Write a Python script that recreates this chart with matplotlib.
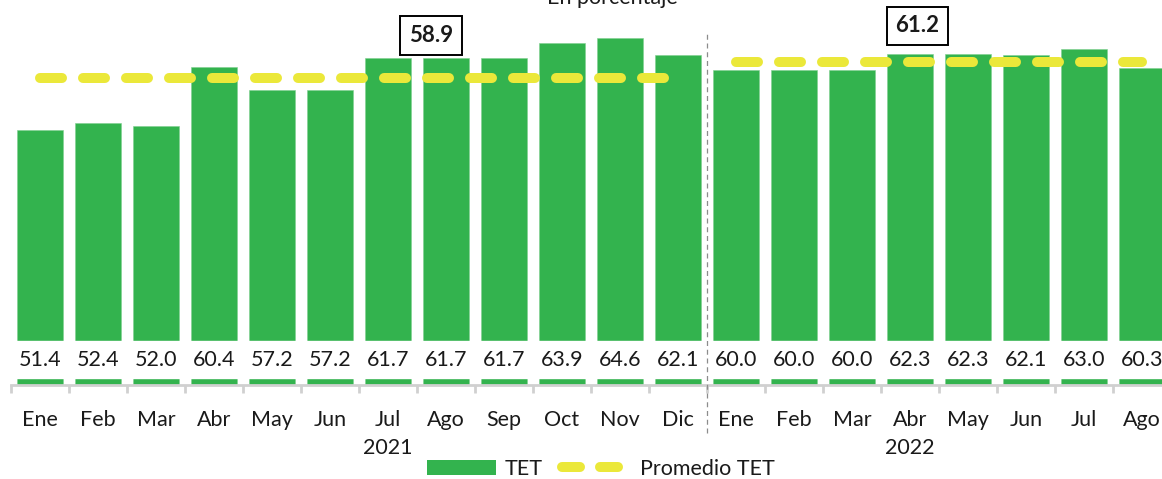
import matplotlib
matplotlib.use("Agg")
import matplotlib.pyplot as plt
from matplotlib.patches import Patch
from matplotlib.lines import Line2D

plt.rcParams['font.family'] = ['Lato', 'DejaVu Sans']

months = ["Ene", "Feb", "Mar", "Abr", "May", "Jun", "Jul", "Ago", "Sep", "Oct", "Nov", "Dic",
          "Ene", "Feb", "Mar", "Abr", "May", "Jun", "Jul", "Ago"]
tet = [51.4, 52.4, 52.0, 60.4, 57.2, 57.2, 61.7, 61.7, 61.7, 63.9, 64.6, 62.1,
       60.0, 60.0, 60.0, 62.3, 62.3, 62.1, 63.0, 60.3]
avg_2021 = 58.9
avg_2022 = 61.2
years = ["2021", "2022"]

GREEN = "#33B34E"
YELLOW = "#EBE83A"
TXT = "#1a1a1a"
FS = 15

W, H = 1162, 479
fig = plt.figure(figsize=(W / 100, H / 100), dpi=100)
left = 11 / W
ax = fig.add_axes([left, 1 - 385 / H, 1160 / W, 385 / H])

x = list(range(len(tet)))
ax.bar(x, tet, width=0.79, color=GREEN, edgecolor="#7fd08f", linewidth=0.4, zorder=2)
ax.set_xlim(-0.5, len(tet) - 0.5)
ax.set_ylim(15, 70)

# white label band
ax.axhspan(16.0, 21.3, color="white", zorder=3)
for xi, v in zip(x, tet):
    ax.text(xi, 18.5, f"{v:.1f}", ha="center", va="center", fontsize=FS + 0.5, color=TXT, zorder=4)

# average lines
n21 = 12
dash = (2.2, 2.1)
ax.plot([0, n21 - 1], [avg_2021] * 2, color=YELLOW, lw=7.2, dashes=dash,
        dash_capstyle="round", zorder=5)
ax.plot([n21, len(tet) - 1], [avg_2022] * 2, color=YELLOW, lw=7.2, dashes=dash,
        dash_capstyle="round", zorder=5)

# average annotations
box = dict(boxstyle="square,pad=0.4", fc="white", ec="black", lw=1.4)
ax.text(6.74, 64.9, f"{avg_2021:.1f}", ha="center", va="center", fontsize=FS + 1,
        fontweight="bold", color=TXT, bbox=box, zorder=6)
ax.text(15.13, 66.3, f"{avg_2022:.1f}", ha="center", va="center", fontsize=FS + 1,
        fontweight="bold", color=TXT, bbox=box, zorder=6)

# year separator
ax.plot([n21 - 0.5, n21 - 0.5], [8.1, 65.3], color="#8c8c8c", lw=0.9,
        dashes=(4, 3), clip_on=False, zorder=6)

# spines and ticks
for s in ["top", "right", "left"]:
    ax.spines[s].set_visible(False)
ax.spines["bottom"].set_color("#d0d0d0")
ax.spines["bottom"].set_linewidth(2)
ax.set_yticks([])
ax.set_xticks(x)
ax.set_xticklabels(months, fontsize=FS + 0.5, color=TXT)
ax.tick_params(axis="x", which="major", length=0, pad=18)
ax.set_xticks([i - 0.5 for i in range(len(tet) + 1)], minor=True)
ax.tick_params(axis="x", which="minor", length=6, width=2, color="#d0d0d0")

# year labels
ax.text(6, 6.0, years[0], ha="center", va="center", fontsize=FS + 0.5, color=TXT, clip_on=False)
ax.text(15, 6.0, years[1], ha="center", va="center", fontsize=FS + 0.5, color=TXT, clip_on=False)

# title (partially cut at top, as in reference)
fig.text(612 / W, 1 - 4 / H, "En porcentaje", ha="center", va="baseline",
         fontsize=FS + 0.5, color=TXT)

handles = [Patch(facecolor=GREEN, edgecolor="none", label="TET"),
           Line2D([0], [0], color=YELLOW, lw=7.2, dashes=(1.8, 2.0),
                  dash_capstyle="round", label="Promedio TET")]
fig.legend(handles=handles, loc="center", bbox_to_anchor=(601 / W, 1 - 469 / H),
           ncol=2, frameon=False, fontsize=FS + 0.5, handlelength=3.2,
           handletextpad=0.4, columnspacing=0.9, handleheight=0.7,
           labelcolor=TXT)

fig.savefig("out.png", dpi=100)
